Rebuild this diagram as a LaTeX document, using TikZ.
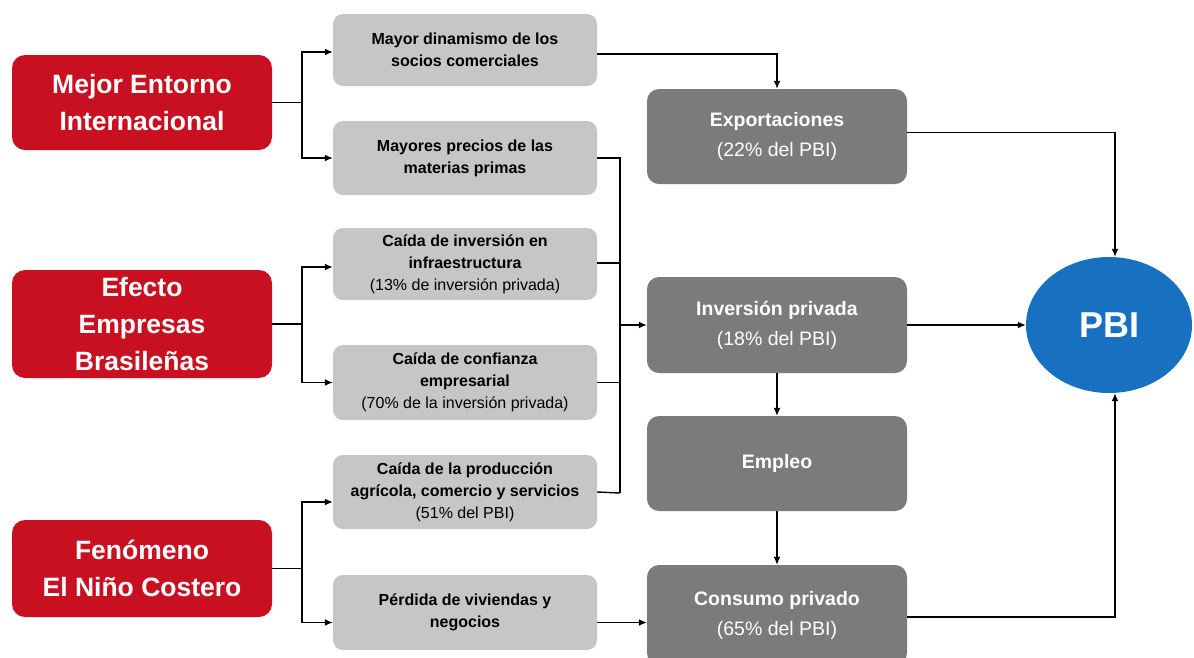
\documentclass[tikz,border=0pt]{standalone}
\usepackage{fontspec}
\setmainfont{Liberation Sans}
\usetikzlibrary{arrows.meta,shapes.geometric}
\definecolor{causered}{RGB}{200,16,32}
\definecolor{lightbox}{RGB}{198,198,198}
\definecolor{darkbox}{RGB}{123,123,123}
\definecolor{pbiblue}{RGB}{24,112,192}
\tikzset{
  causebox/.style={fill=causered, rounded corners=13pt, text=white, align=center,
    minimum width=260pt, inner sep=0pt,
    font=\fontsize{26.5}{37}\selectfont\bfseries},
  channelbox/.style={fill=lightbox, rounded corners=10pt, text=black, align=center,
    minimum width=264pt, inner sep=0pt,
    font=\fontsize{16}{22}\selectfont\bfseries},
  effectbox/.style={fill=darkbox, rounded corners=12pt, text=white, align=center,
    minimum width=260pt, inner sep=0pt,
    font=\fontsize{19.5}{30}\selectfont},
  link/.style={line width=1.4pt, draw=black},
  arr/.style={link, -{Latex[length=8pt,width=7pt]}},
}
\begin{document}
\begin{tikzpicture}[x=1pt,y=-1pt]
\useasboundingbox (0,0) rectangle (1194,657);
\clip (0,0) rectangle (1194,657);
\fill[white] (0,0) rectangle (1194,657);

% causes
\node[causebox, minimum height=95pt] (r1) at (142,102.5) {Mejor Entorno\\Internacional};
\node[causebox, minimum height=108pt] (r2) at (142,324) {Efecto\\Empresas\\Brasileñas};
\node[causebox, minimum height=97pt] (r3) at (142,568.5) {Fenómeno\\El Niño Costero};

% transmission channels
\node[channelbox, minimum height=72pt] (g1) at (465,50) {Mayor dinamismo de los\\socios comerciales};
\node[channelbox, minimum height=74pt] (g2) at (465,158) {Mayores precios de las\\materias primas};
\node[channelbox, minimum height=72pt] (g3) at (465,264) {Caída de inversión en\\infraestructura\\{\mdseries(13\% de inversión privada)}};
\node[channelbox, minimum height=75pt] (g4) at (465,382.5) {Caída de confianza\\empresarial\\{\mdseries(70\% de la inversión privada)}};
\node[channelbox, minimum height=74pt] (g5) at (465,492) {Caída de la producción\\agrícola, comercio y servicios\\{\mdseries(51\% del PBI)}};
\node[channelbox, minimum height=75pt] (g6) at (465,612.5) {Pérdida de viviendas y\\negocios};

% demand components
\node[effectbox, minimum height=95pt] (d1) at (777,136.5) {\textbf{Exportaciones}\\(22\% del PBI)};
\node[effectbox, minimum height=96pt] (d2) at (777,325) {\textbf{Inversión privada}\\(18\% del PBI)};
\node[effectbox, minimum height=95pt] (d3) at (777,463.5) {\textbf{Empleo}};
\node[effectbox, minimum height=100pt] (d4) at (777,615) {\textbf{Consumo privado}\\(65\% del PBI)};

% output
\node[ellipse, fill=pbiblue, text=white, minimum width=166pt, minimum height=136pt, inner sep=0pt,
  font=\fontsize{36}{40}\selectfont\bfseries] (pbi) at (1109,325) {PBI};

% causes -> channels
\coordinate (j1) at (302,102.5);
\coordinate (j2) at (302,324);
\coordinate (j3) at (302,568.5);
\draw[link] (r1.east) -- (j1);
\draw[arr] (j1) |- ([yshift=-2pt]g1.west);
\draw[arr] (j1) |- (g2.west);
\draw[link] (r2.east) -- (j2);
\draw[arr] (j2) |- ([yshift=-3pt]g3.west);
\draw[arr] (j2) |- (g4.west);
\draw[link] (r3.east) -- (j3);
\draw[arr] (j3) |- ([yshift=-10pt]g5.west);
\draw[arr] (j3) |- ([yshift=-10pt]g6.west);

% channels -> components
\draw[arr] ([yshift=-4pt]g1.east) -| (d1.north);
\coordinate (jbus) at (620,493);
\draw[link] (g2.east) -| (jbus);
\draw[link] ([yshift=1pt]g3.east) -- ([yshift=1pt]g3.east -| jbus);
\draw[link] (g4.east) -- (g4.east -| jbus);
\draw[link] (g5.east) -- (jbus);
\draw[arr] (jbus |- d2.west) -- (d2.west);
\draw[arr] ([yshift=-10pt]g6.east) -- ([yshift=-10pt]g6.east -| d4.west);

% components -> PBI
\draw[arr] (d2.south) -- (d3.north);
\draw[arr] (d3.south) -- (d4.north);
\draw[arr] ([yshift=4pt]d1.east) -| ([xshift=6pt]pbi.north);
\draw[arr] (d2.east) -- (pbi.west);
\draw[arr] ([yshift=-2pt]d4.east) -| ([xshift=6pt]pbi.south);
\end{tikzpicture}
\end{document}
